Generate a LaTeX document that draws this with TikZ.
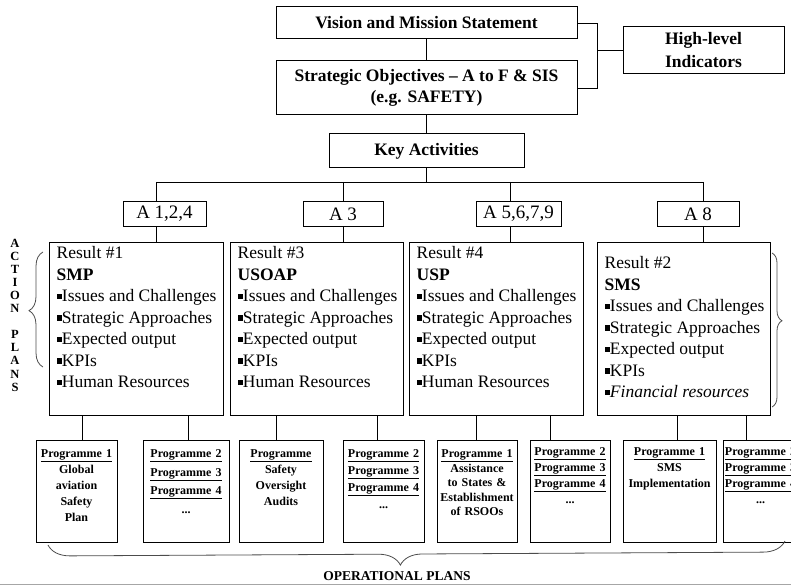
\documentclass[tikz,border=0pt]{standalone}
\usepackage{fontspec}
\setmainfont{Liberation Serif}
\usetikzlibrary{decorations.pathreplacing}

\newcommand{\bsq}{\rule[0.15em]{0.3em}{0.3em}}

\begin{document}
\begin{tikzpicture}[
x=1pt, y=-1pt,
box/.style={draw, line width=1pt, rectangle, inner sep=0pt, align=center, font=\fontsize{17.5}{21}\selectfont\bfseries},
abox/.style={draw, line width=1pt, inner sep=0pt, minimum height=24pt, font=\fontsize{19}{22}\selectfont},
rbox/.style={draw, line width=1pt, minimum width=174pt, minimum height=173pt, inner sep=0pt},
rtext/.style={anchor=north west, inner sep=0pt, align=left, font=\fontsize{17.5}{21.5}\selectfont},
pbox/.style={draw, line width=1pt, minimum height=102pt, inner sep=0pt},
ptext/.style={anchor=north, inner sep=0pt, align=center, font=\fontsize{12}{16}\selectfont\bfseries},
line/.style={line width=0.9pt},
brc/.style={decorate, line width=0.8pt, gray!60!black}
]
\useasboundingbox (0,0) rectangle (791,585);
\clip (0,0) rectangle (791,585);

% top of the chart
\node[box, minimum width=301pt, minimum height=32pt] (vision) at (426.5,23) {Vision and Mission Statement};
\node[box, minimum width=301pt, minimum height=54pt] (strat) at (426.5,88) {Strategic Objectives – A to F \& SIS\\(e.g. SAFETY)};
\node[box, minimum width=161pt, minimum height=47pt, font=\fontsize{17.5}{23}\selectfont\bfseries] (hli) at (703.5,50.5) {High-level\\Indicators};
\node[box, minimum width=195pt, minimum height=34pt] (key) at (426.5,151) {Key Activities};

\coordinate (hj) at (597,50.5);
\draw[line] (vision.east) -| (hj) |- (strat.east);
\draw[line] (hli.west) -- (hj);
\draw[line] (vision) -- (strat);
\draw[line] (strat) -- (key);

% activities
\coordinate (d1) at (156,182);
\coordinate (d3) at (343,182);
\coordinate (d4) at (510,182);
\coordinate (d8) at (703,182);
\draw[line] (key.south) -- (key.south |- d1);
\draw[line] (d1) -- (d8);

\node[abox, minimum width=83pt] (a1) at (164.5,214) {A 1,2,4};
\node[abox, minimum width=80pt] (a3) at (343,214) {A 3};
\node[abox, minimum width=85pt] (a4) at (518.5,214) {A 5,6,7,9};
\node[abox, minimum width=82pt] (a8) at (698,214) {A 8};

% results
\node[rbox] (r1) at (136,328.5) {};
\node[rbox, minimum width=173pt] (r3) at (316.5,328.5) {};
\node[rbox] (r4) at (496,328.5) {};
\node[rbox, minimum width=173pt] (r2) at (683.5,328.5) {};

\node[rtext] (t1) at ([shift={(8,5)}]r1.north west) {Result \#1\\\textbf{SMP}\\\bsq Issues and Challenges\\\bsq Strategic Approaches\\\bsq Expected output\\\bsq KPIs\\\bsq Human Resources};
\node[rtext] (t3) at ([shift={(8,5)}]r3.north west) {Result \#3\\\textbf{USOAP}\\\bsq Issues and Challenges\\\bsq Strategic Approaches\\\bsq Expected output\\\bsq KPIs\\\bsq Human Resources};
\node[rtext] (t4) at ([shift={(8,5)}]r4.north west) {Result \#4\\\textbf{USP}\\\bsq Issues and Challenges\\\bsq Strategic Approaches\\\bsq Expected output\\\bsq KPIs\\\bsq Human Resources};
\node[rtext] (t2) at ([shift={(8,15)}]r2.north west) {Result \#2\\\textbf{SMS}\\\bsq Issues and Challenges\\\bsq Strategic Approaches\\\bsq Expected output\\\bsq KPIs\\\bsq \textit{Financial resources}};

\foreach \d/\a/\r in {d1/a1/r1, d3/a3/r3, d4/a4/r4, d8/a8/r2} {
  \draw[line] (\d) -- (\d |- \a.north);
  \draw[line] (\d |- \a.south) -- (\d |- \r.north);
}

% programmes
\node[pbox, minimum width=81pt] (p1) at (76.5,491) {};
\node[pbox, minimum width=86pt] (p2) at (186,491) {};
\node[pbox, minimum width=84pt] (p3) at (281,491) {};
\node[pbox, minimum width=81pt] (p4) at (383.5,491) {};
\node[pbox, minimum width=80pt] (p5) at (477,491) {};
\node[pbox, minimum width=80pt] (p6) at (570,491) {};
\node[pbox, minimum width=93pt] (p7) at (669.5,491) {};
\node[pbox, minimum width=75pt] (p8) at (760.5,491) {};

\node[ptext, text width=79pt] (pt1) at ([shift={(0,10)}]p1.north) {\underline{Programme 1}\\Global\\aviation\\Safety\\Plan};
\node[ptext, text width=84pt, font=\fontsize{12}{18.5}\selectfont\bfseries] (pt2) at ([shift={(0,10)}]p2.north) {\underline{Programme 2}\\\underline{Programme 3}\\\underline{Programme 4}\\...};
\node[ptext, text width=82pt] (pt3) at ([shift={(0,10)}]p3.north) {\underline{Programme}\\Safety\\Oversight\\Audits};
\node[ptext, text width=79pt, font=\fontsize{12}{17}\selectfont\bfseries] (pt4) at ([shift={(0,10)}]p4.north) {\underline{Programme 2}\\\underline{Programme 3}\\\underline{Programme 4}\\...};
\node[ptext, text width=78pt, font=\fontsize{12}{14.5}\selectfont\bfseries] (pt5) at ([shift={(0,10)}]p5.north) {\underline{Programme 1}\\Assistance\\to States \&\\Establishment\\of RSOOs};
\node[ptext, text width=78pt] (pt6) at ([shift={(0,8)}]p6.north) {\underline{Programme 2}\\\underline{Programme 3}\\\underline{Programme 4}\\...};
\node[ptext, text width=91pt] (pt7) at ([shift={(0,8)}]p7.north) {\underline{Programme 1}\\SMS\\Implementation};
\node[ptext, text width=75pt] (pt8) at ([shift={(0,8)}]p8.north) {\underline{Programme 2}\\\underline{Programme 3}\\\underline{Programme 4}\\...};

\foreach \p/\r/\dx in {p1/r1/5.5, p2/r1/2, p3/r3/-5, p4/r3/-6.5, p5/r4/-1, p6/r4/-20, p7/r2/7.5, p8/r2/-14} {
  \coordinate (t) at ([shift={(\dx,0)}]\p.north);
  \draw[line] (t) -- (t |- \r.south);
}

% braces
\node[inner sep=0pt, align=center, font=\fontsize{12.5}{13.1}\selectfont\bfseries] (apl) at (15,315) {A\\C\\T\\I\\O\\N\\[13.1pt]P\\L\\A\\N\\S};
\coordinate (lbt) at (43,252);
\coordinate (lbb) at (43,367);
\draw[brc, decoration={brace, amplitude=14pt, aspect=0.49}] (lbb) -- (lbt);
\coordinate (rbt) at (772,253);
\coordinate (rbb) at (772,407);
\draw[brc, decoration={brace, amplitude=10pt, aspect=0.44}] (rbt) -- (rbb);
\coordinate (bbl) at (48,545);
\coordinate (bbr) at (785,541);
\draw[brc, decoration={brace, mirror, amplitude=22pt, aspect=0.478}] (bbl) -- (bbr);
\node[font=\fontsize{13.5}{16}\selectfont\bfseries, inner sep=0pt] (opl) at (397,576) {OPERATIONAL PLANS};

\draw[gray!70, line width=1.5pt] (0,584.5) -- (791,584.5);
\end{tikzpicture}
\end{document}
